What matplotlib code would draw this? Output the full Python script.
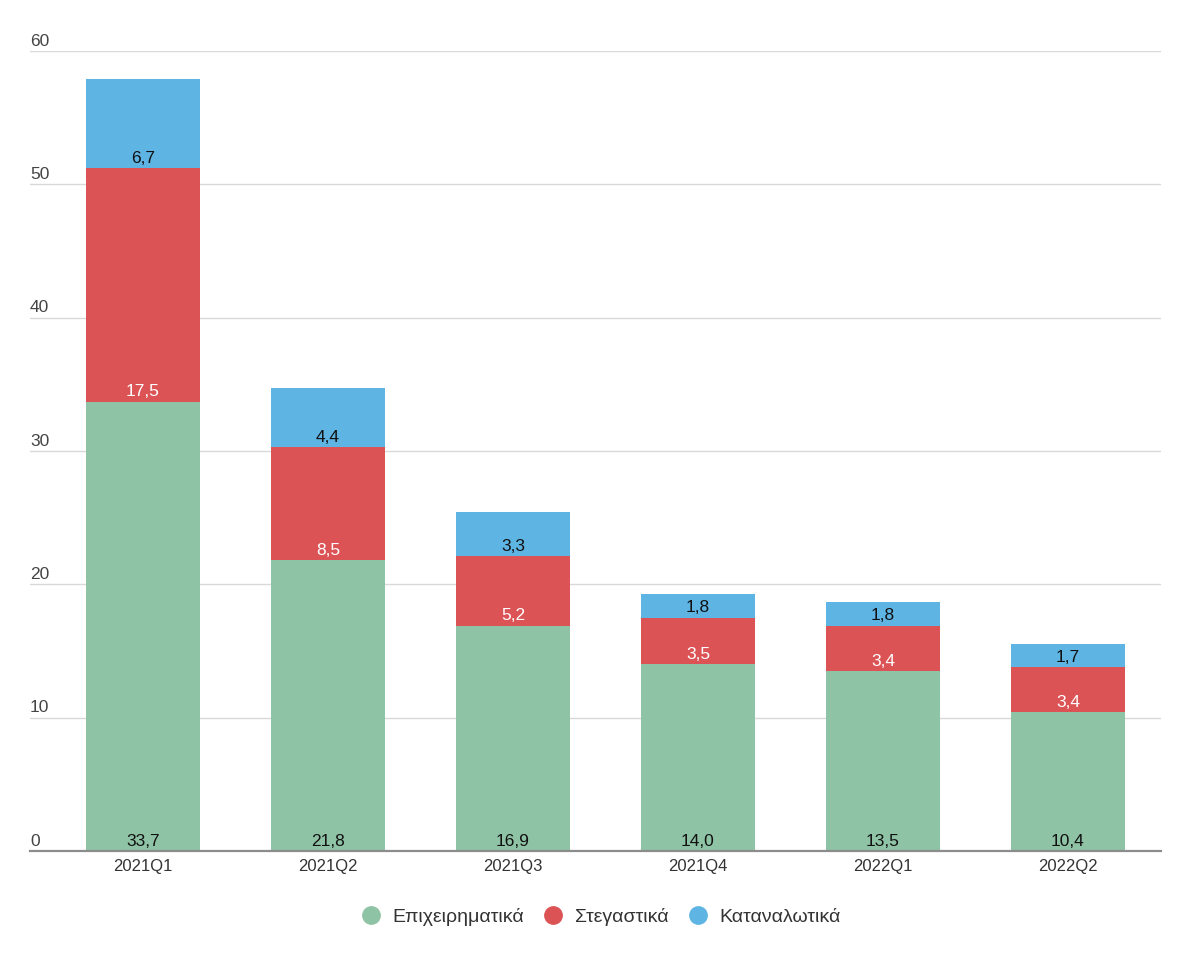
import matplotlib
matplotlib.use("Agg")
import matplotlib.pyplot as plt
from matplotlib.lines import Line2D
import numpy as np

plt.rcParams['font.family'] = ['Liberation Sans', 'DejaVu Sans']

categories = ["2021Q1", "2021Q2", "2021Q3", "2021Q4", "2022Q1", "2022Q2"]
business = [33.7, 21.8, 16.9, 14.0, 13.5, 10.4]
housing = [17.5, 8.5, 5.2, 3.5, 3.4, 3.4]
consumer = [6.7, 4.4, 3.3, 1.8, 1.8, 1.7]
series_names = ["Επιχειρηματικά", "Στεγαστικά", "Καταναλωτικά"]
yticks = [0, 10, 20, 30, 40, 50, 60]

colors = ["#8fc3a5", "#dc5356", "#5eb5e4"]
label_colors = ["#111111", "#ffffff", "#111111"]

W, H = 1202, 960
fig = plt.figure(figsize=(W / 100, H / 100), dpi=100)
left_px, right_px, top_px, bottom_px = 30, 1161, 51, 851
ax = fig.add_axes([left_px / W, 1 - bottom_px / H, (right_px - left_px) / W, (bottom_px - top_px) / H])

spacing = 185.0
c0 = 143.0
x = np.arange(len(categories))
ax.set_xlim((left_px - c0) / spacing, (right_px - c0) / spacing)
ax.set_ylim(0, 60)

width = 114 / spacing
bottoms = np.zeros(len(categories))
for vals, col, lc in zip([business, housing, consumer], colors, label_colors):
    vals = np.array(vals)
    ax.bar(x, vals, width=width, bottom=bottoms, color=col, zorder=2, linewidth=0)
    for xi, b, v in zip(x, bottoms, vals):
        ax.annotate(f"{v:.1f}".replace(".", ","), xy=(xi, b), xytext=(0, 10),
                    textcoords="offset pixels",
                    ha="center", va="center", fontsize=12.5, color=lc, zorder=3)
    bottoms = bottoms + vals

# gridlines
for t in yticks[1:]:
    ax.axhline(t, color="#d9d9d9", linewidth=1, zorder=1)
ax.axhline(0, color="#8c8c8c", linewidth=1.6, zorder=4, clip_on=False)

for s in ax.spines.values():
    s.set_visible(False)
ax.set_yticks([])
ax.set_xticks(x)
ax.set_xticklabels(categories, fontsize=12, color="#333333")
ax.tick_params(axis="x", length=0, pad=6)

for t in yticks:
    ax.annotate(str(t), xy=(0, t), xycoords=("axes fraction", "data"),
                xytext=(0, 10), textcoords="offset pixels",
                ha="left", va="center", fontsize=12.5, color="#444444")

handles = [Line2D([0], [0], marker="o", linestyle="", markersize=12.5,
                  markerfacecolor=c, markeredgecolor=c) for c in colors]
fig.legend(handles, series_names, loc="center", bbox_to_anchor=(596 / W, 1 - 917 / H),
           ncol=3, frameon=False, fontsize=14, handletextpad=0.1, columnspacing=0.5,
           labelcolor="#333333")

fig.savefig("out.png", dpi=100, facecolor="white")
